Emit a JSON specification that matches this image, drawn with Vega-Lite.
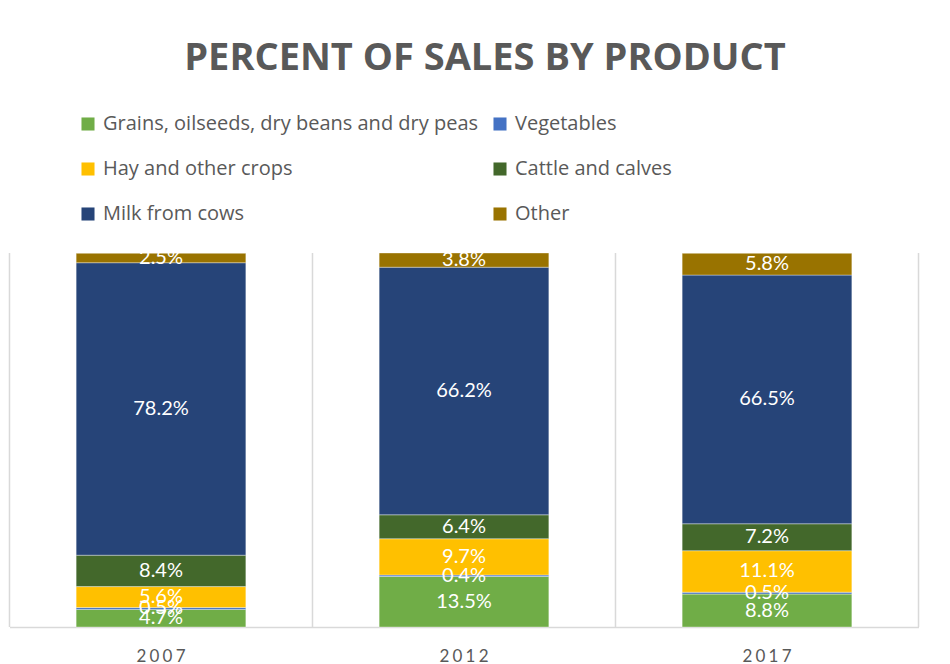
{
  "$schema": "https://vega.github.io/schema/vega-lite/v6.json",
  "width": 909,
  "height": 374,
  "autosize": {"type": "none"},
  "padding": {"left": 9.5, "top": 253, "right": 31.5, "bottom": 37},
  "background": "white",
  "title": {
    "text": "PERCENT OF SALES BY PRODUCT",
    "font": "Open Sans",
    "fontSize": 38,
    "fontWeight": "bold",
    "color": "#595959",
    "anchor": "middle",
    "frame": "group",
    "offset": 36,
    "dx": 21
  },
  "data": {
    "values": [
      {"year": "2007", "product": "Grains, oilseeds, dry beans and dry peas", "share": 0.047},
      {"year": "2007", "product": "Vegetables", "share": 0.005},
      {"year": "2007", "product": "Hay and other crops", "share": 0.056},
      {"year": "2007", "product": "Cattle and calves", "share": 0.084},
      {"year": "2007", "product": "Milk from cows", "share": 0.782},
      {"year": "2007", "product": "Other", "share": 0.025},
      {"year": "2012", "product": "Grains, oilseeds, dry beans and dry peas", "share": 0.135},
      {"year": "2012", "product": "Vegetables", "share": 0.004},
      {"year": "2012", "product": "Hay and other crops", "share": 0.097},
      {"year": "2012", "product": "Cattle and calves", "share": 0.064},
      {"year": "2012", "product": "Milk from cows", "share": 0.662},
      {"year": "2012", "product": "Other", "share": 0.038},
      {"year": "2017", "product": "Grains, oilseeds, dry beans and dry peas", "share": 0.088},
      {"year": "2017", "product": "Vegetables", "share": 0.005},
      {"year": "2017", "product": "Hay and other crops", "share": 0.111},
      {"year": "2017", "product": "Cattle and calves", "share": 0.072},
      {"year": "2017", "product": "Milk from cows", "share": 0.665},
      {"year": "2017", "product": "Other", "share": 0.058}
    ]
  },
  "transform": [
    {"calculate": "indexof(['Grains, oilseeds, dry beans and dry peas', 'Vegetables', 'Hay and other crops', 'Cattle and calves', 'Milk from cows', 'Other'], datum.product)", "as": "rank"}
  ],
  "encoding": {
    "x": {
      "field": "year",
      "type": "nominal",
      "scale": {"paddingInner": 0.44, "paddingOuter": 0.22},
      "axis": {
        "title": null,
        "labelAngle": 0,
        "labelFont": "Lato",
        "labelFontSize": 17,
        "labelColor": "#595959",
        "labelPadding": 21,
        "labelExpr": "join(split(datum.label, ''), '\u2009\u200a')",
        "ticks": false,
        "grid": false,
        "domainColor": "#D9D9D9",
        "domainWidth": 1.5
      }
    }
  },
  "layer": [
    {
      "transform": [{"filter": "datum.rank == 0"}],
      "mark": {"type": "rule", "color": "#D9D9D9", "strokeWidth": 1.5},
      "encoding": {
        "x": {"field": "year", "type": "nominal", "bandPosition": -0.3929}
      }
    },
    {
      "transform": [{"filter": "datum.rank == 0 && datum.year == '2017'"}],
      "mark": {"type": "rule", "color": "#D9D9D9", "strokeWidth": 1.5},
      "encoding": {
        "x": {"field": "year", "type": "nominal", "bandPosition": 1.3929}
      }
    },
    {
      "mark": {"type": "bar", "stroke": "#ffffff", "strokeWidth": 0.6, "strokeOpacity": 0.6},
      "encoding": {
        "y": {
          "field": "share",
          "type": "quantitative",
          "stack": "zero",
          "scale": {"domain": [0, 1], "nice": false},
          "axis": null
        },
        "order": {"field": "rank", "type": "quantitative", "sort": "ascending"},
        "color": {
          "field": "product",
          "type": "nominal",
          "sort": ["Grains, oilseeds, dry beans and dry peas", "Vegetables", "Hay and other crops", "Cattle and calves", "Milk from cows", "Other"],
          "scale": {
            "domain": ["Grains, oilseeds, dry beans and dry peas", "Vegetables", "Hay and other crops", "Cattle and calves", "Milk from cows", "Other"],
            "range": ["#70AD47", "#4472C4", "#FFC000", "#43682B", "#264478", "#997300"]
          },
          "legend": {
            "title": null,
            "orient": "none",
            "legendX": 68.5,
            "legendY": -139,
            "direction": "horizontal",
            "columns": 2,
            "symbolType": "square",
            "symbolSize": 170,
            "symbolStrokeWidth": 0,
            "labelFont": "Open Sans",
            "labelFontSize": 20,
            "labelColor": "#595959",
            "labelOffset": 5,
            "labelLimit": 600,
            "rowPadding": 25,
            "columnPadding": 11
          }
        }
      }
    },
    {
      "mark": {"type": "text", "font": "Lato", "fontSize": 20, "baseline": "middle"},
      "encoding": {
        "y": {
          "field": "share",
          "type": "quantitative",
          "stack": "zero",
          "bandPosition": 0.5
        },
        "order": {"field": "rank", "type": "quantitative", "sort": "ascending"},
        "text": {"field": "share", "type": "quantitative", "format": ".1%"},
        "color": {
          "field": "product",
          "type": "nominal",
          "scale": {"range": ["#ffffff"]},
          "legend": null
        }
      }
    }
  ],
  "resolve": {"scale": {"color": "independent"}},
  "config": {
    "view": {"stroke": null}
  }
}
